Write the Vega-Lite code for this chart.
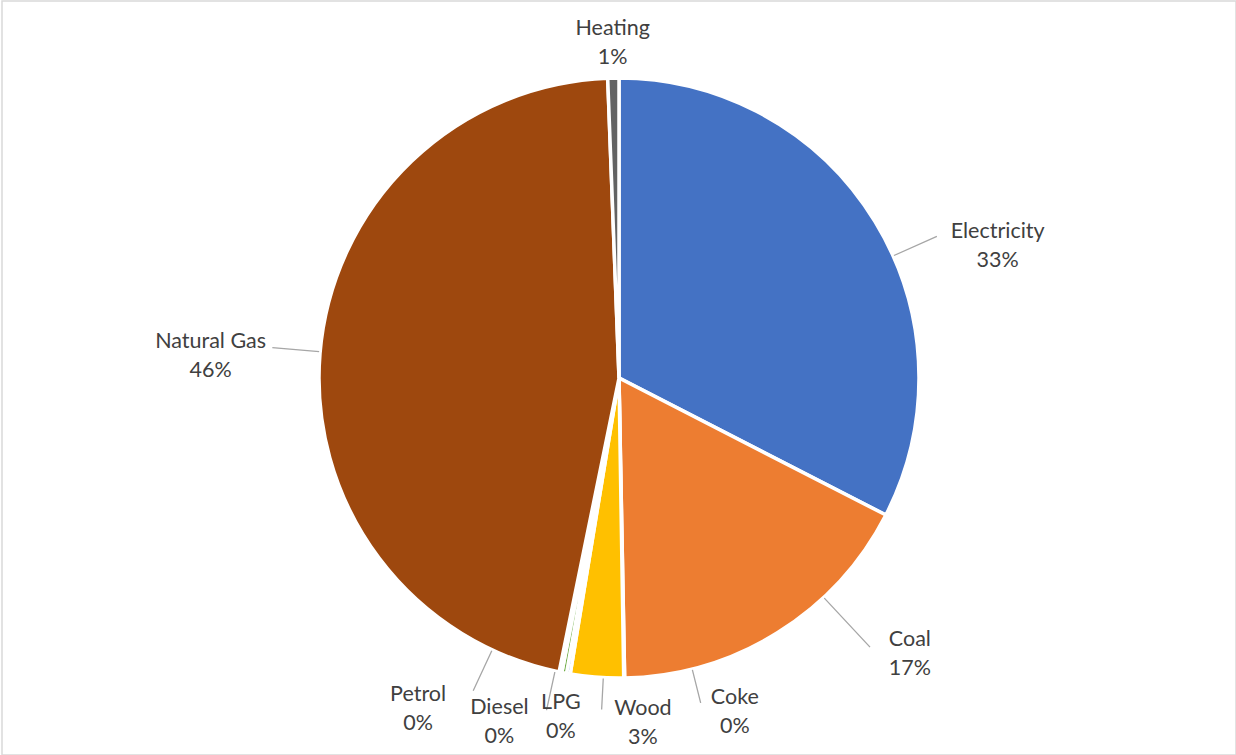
{
  "$schema": "https://vega.github.io/schema/vega-lite/v6.json",
  "width": 1236,
  "height": 755,
  "autosize": {"type": "fit", "contains": "padding"},
  "padding": {"left": 2, "top": 1, "right": 0, "bottom": 0},
  "background": "white",
  "view": {"stroke": "#D9D9D9", "strokeWidth": 1.5},
  "data": {
    "values": [
      {"idx": 1, "category": "Electricity", "share": 0.3255},
      {"idx": 2, "category": "Coal", "share": 0.1715},
      {"idx": 3, "category": "Coke", "share": 0.0005},
      {"idx": 4, "category": "Wood", "share": 0.0285},
      {"idx": 5, "category": "LPG", "share": 0.002},
      {"idx": 6, "category": "Diesel", "share": 0.0025},
      {"idx": 7, "category": "Petrol", "share": 0.0015},
      {"idx": 8, "category": "Natural Gas", "share": 0.462},
      {"idx": 9, "category": "Heating", "share": 0.006}
    ]
  },
  "encoding": {
    "theta": {"field": "share", "type": "quantitative", "stack": true},
    "order": {"field": "idx", "type": "quantitative", "sort": "ascending"},
    "detail": {"field": "category", "type": "nominal"}
  },
  "layer": [
    {
      "mark": {"type": "arc", "outerRadius": 300, "stroke": "white", "strokeWidth": 3.5},
      "encoding": {
        "color": {
          "field": "category",
          "type": "nominal",
          "scale": {
            "domain": ["Electricity", "Coal", "Coke", "Wood", "LPG", "Diesel", "Petrol", "Natural Gas", "Heating"],
            "range": ["#4472C4", "#ED7D31", "#A5A5A5", "#FFC000", "#5B9BD5", "#70AD47", "#264478", "#9E480E", "#636363"]
          },
          "legend": null
        }
      }
    },
    {
      "mark": {
        "type": "arc",
        "padAngle": 3,
        "innerRadius": 301,
        "outerRadius": {"expr": "datum.category === 'Electricity' ? 348 : datum.category === 'Coal' ? 368 : datum.category === 'Coke' ? 335 : datum.category === 'Wood' ? 332 : datum.category === 'Diesel' ? 340 : datum.category === 'Petrol' ? 345 : datum.category === 'Natural Gas' ? 348 : 301"},
        "thetaOffset": {"expr": "datum.category === 'Electricity' ? 0.129 : datum.category === 'Coal' ? -0.193 : datum.category === 'Coke' ? -0.229 : datum.category === 'Wood' ? -0.0215 : datum.category === 'Diesel' ? 0.031 : datum.category === 'Petrol' ? 0.24 : datum.category === 'Natural Gas' ? 0.006 : 0"},
        "theta2Offset": {"expr": "datum.category === 'Electricity' ? 0.129 : datum.category === 'Coal' ? -0.193 : datum.category === 'Coke' ? -0.229 : datum.category === 'Wood' ? -0.0215 : datum.category === 'Diesel' ? 0.031 : datum.category === 'Petrol' ? 0.24 : datum.category === 'Natural Gas' ? 0.006 : 0"},
        "filled": false,
        "color": "#A6A6A6",
        "strokeWidth": 1.3
      }
    },
    {
      "mark": {
        "type": "text",
        "radius": {"expr": "datum.category === 'Electricity' ? 401 : datum.category === 'Coal' ? 401 : datum.category === 'Coke' ? 354 : datum.category === 'Wood' ? 346 : datum.category === 'LPG' ? 344 : datum.category === 'Diesel' ? 365 : datum.category === 'Petrol' ? 388 : datum.category === 'Natural Gas' ? 409 : 335"},
        "thetaOffset": {"expr": "datum.category === 'Electricity' ? 0.213 : datum.category === 'Coal' ? -0.254 : datum.category === 'Coke' ? -0.316 : datum.category === 'Wood' ? -0.143 : datum.category === 'Diesel' ? 0.15 : datum.category === 'Petrol' ? 0.348 : datum.category === 'Natural Gas' ? -0.028 : 0"},
        "dy": -14.5,
        "font": "Lato",
        "fontSize": 21.5,
        "color": "#404040",
        "align": "center",
        "baseline": "middle"
      },
      "encoding": {"text": {"field": "category", "type": "nominal"}}
    },
    {
      "mark": {
        "type": "text",
        "radius": {"expr": "datum.category === 'Electricity' ? 401 : datum.category === 'Coal' ? 401 : datum.category === 'Coke' ? 354 : datum.category === 'Wood' ? 346 : datum.category === 'LPG' ? 344 : datum.category === 'Diesel' ? 365 : datum.category === 'Petrol' ? 388 : datum.category === 'Natural Gas' ? 409 : 335"},
        "thetaOffset": {"expr": "datum.category === 'Electricity' ? 0.213 : datum.category === 'Coal' ? -0.254 : datum.category === 'Coke' ? -0.316 : datum.category === 'Wood' ? -0.143 : datum.category === 'Diesel' ? 0.15 : datum.category === 'Petrol' ? 0.348 : datum.category === 'Natural Gas' ? -0.028 : 0"},
        "dy": 14.5,
        "font": "Lato",
        "fontSize": 21.5,
        "color": "#404040",
        "align": "center",
        "baseline": "middle"
      },
      "encoding": {"text": {"field": "share", "type": "quantitative", "format": ".0%"}}
    }
  ]
}
